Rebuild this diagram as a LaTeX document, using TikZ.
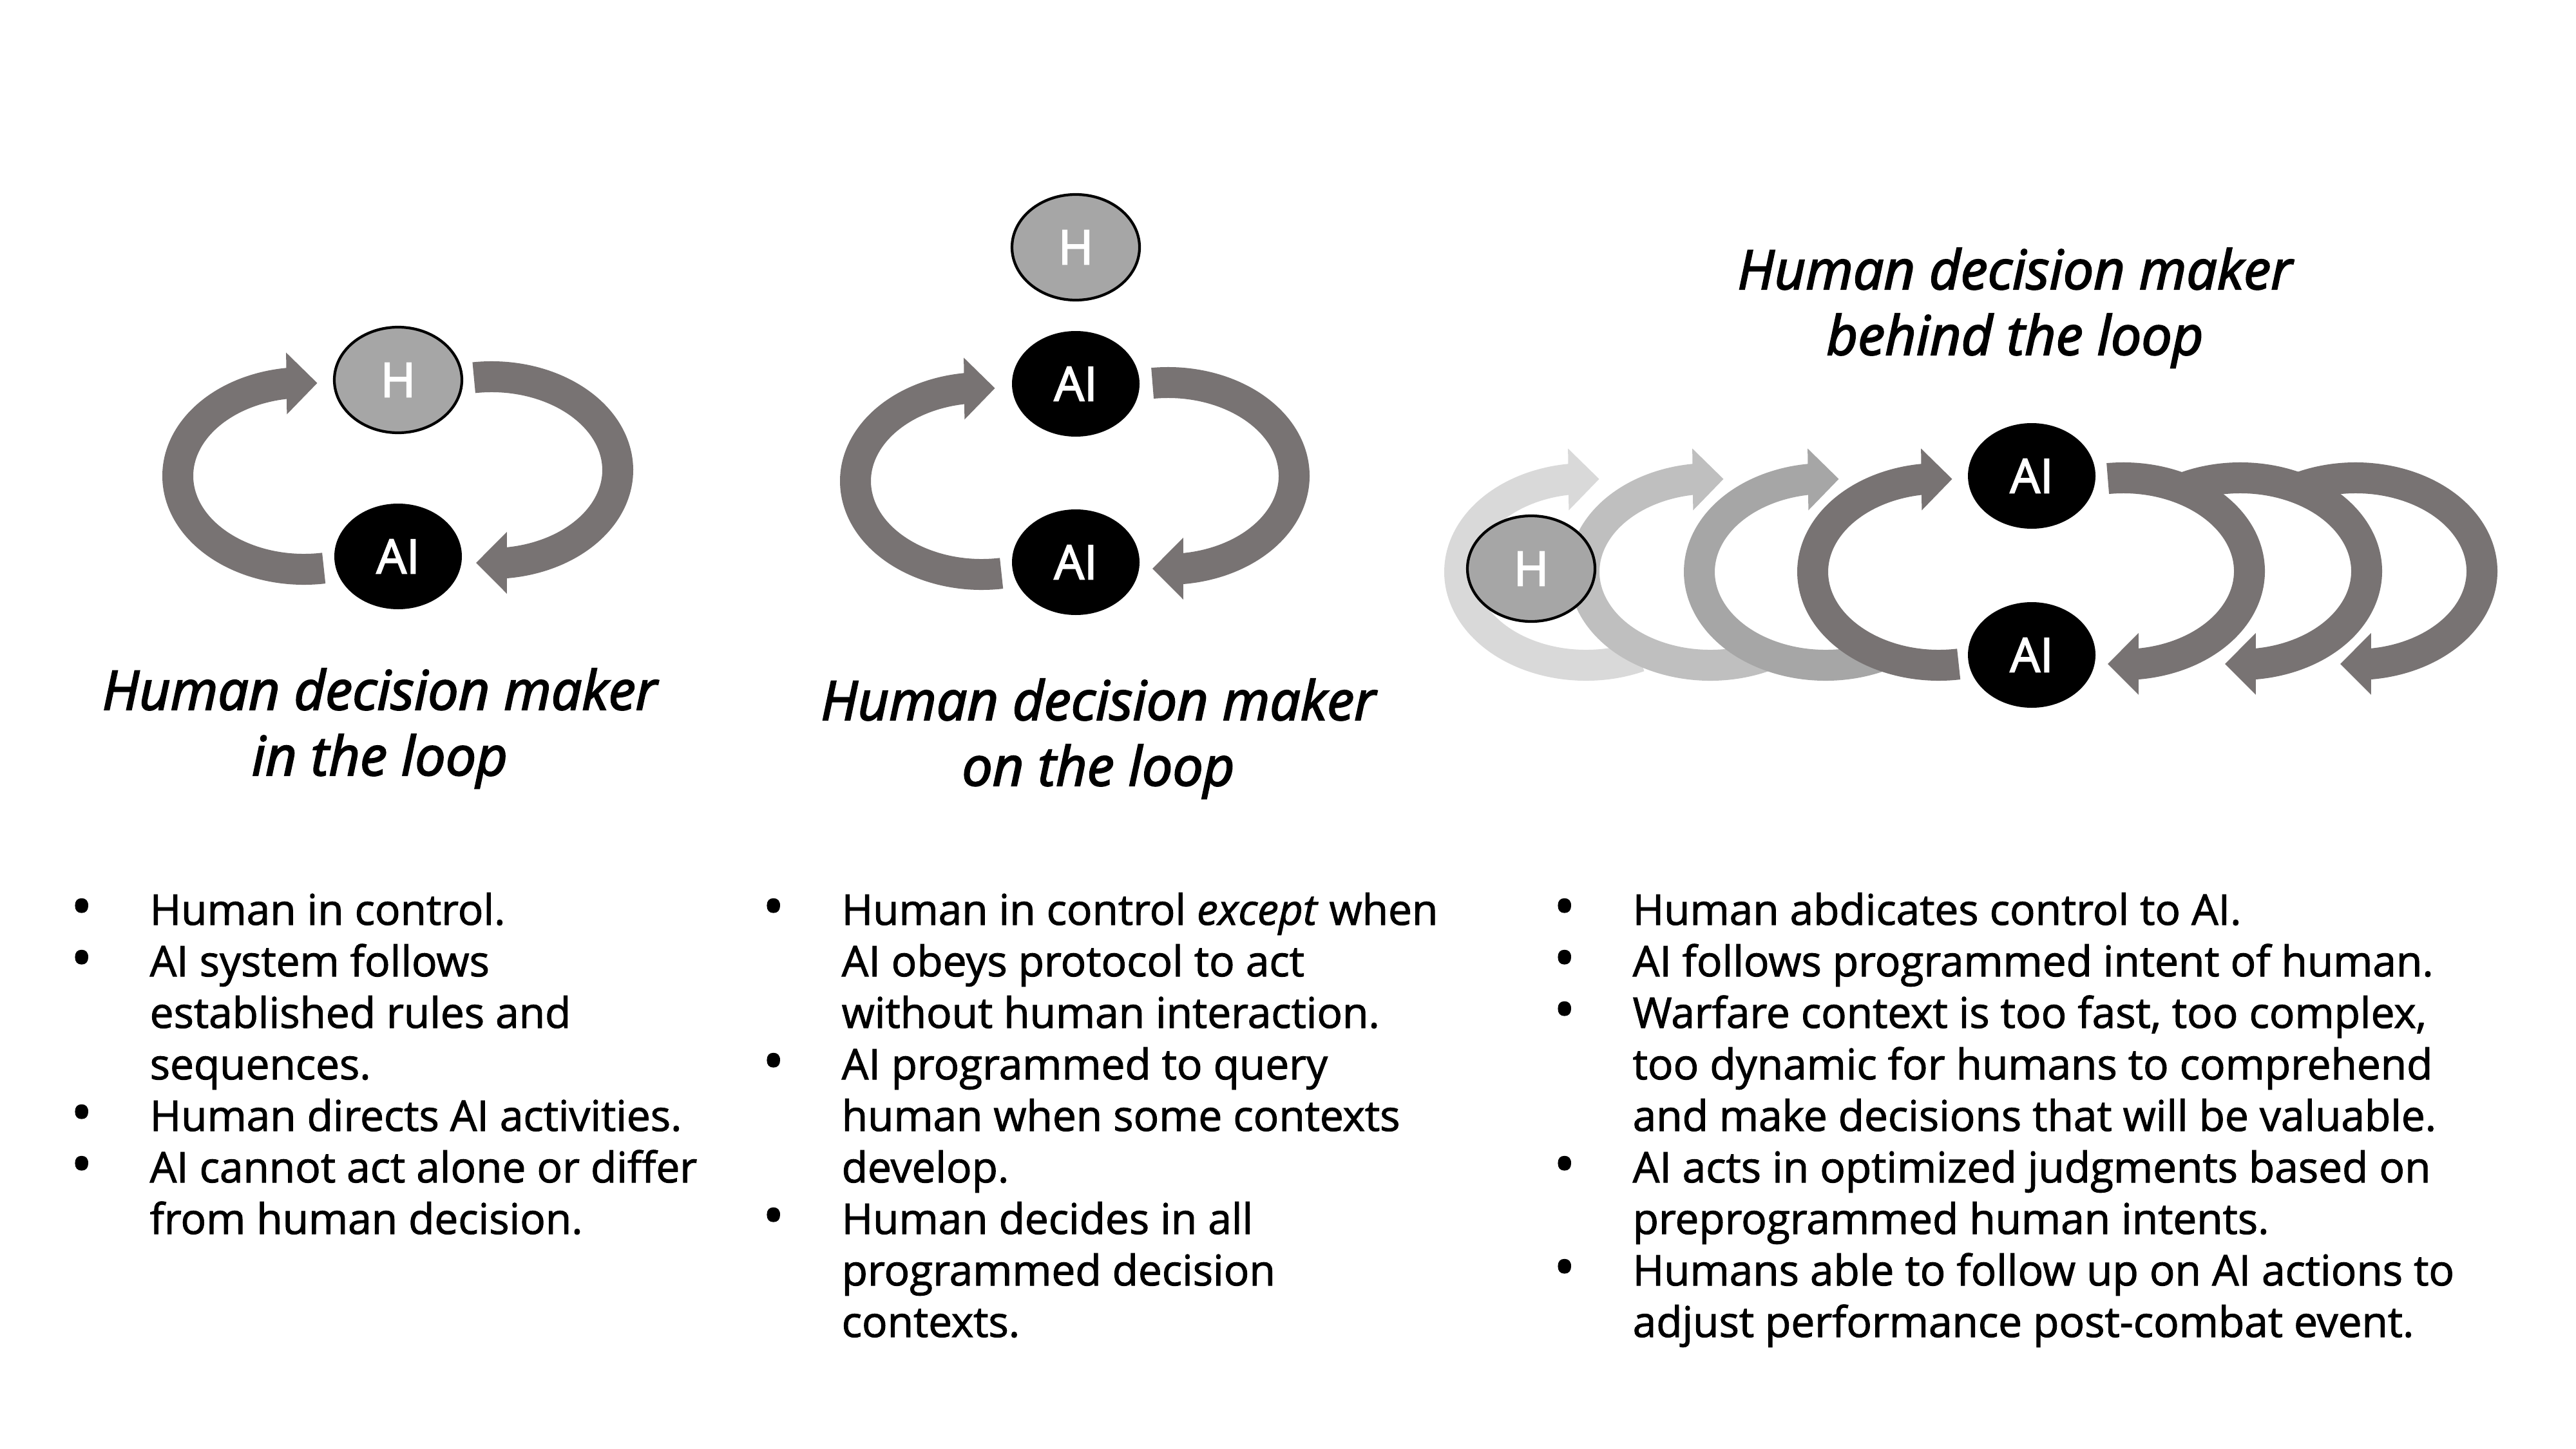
\documentclass[tikz,border=0pt]{standalone}
\usepackage{fontspec}
\usepackage{graphicx}
\setmainfont{Open Sans}[FakeBold=1.6]
\newfontfamily\titlefont{Open Sans}[FakeBold=2.6]
\usetikzlibrary{shapes.geometric,calc}
\pgfdeclarelayer{bg}
\pgfsetlayers{bg,main}
\definecolor{arrowgray}{RGB}{120,115,115}
\definecolor{hgray}{RGB}{166,166,166}
\definecolor{gone}{RGB}{217,217,217}
\definecolor{gtwo}{RGB}{191,191,191}
\definecolor{gthree}{RGB}{166,166,166}
\tikzset{
  agent/.style={ellipse, minimum width=1.98cm, minimum height=1.64cm, inner sep=0pt,
    text=white, font=\titlefont\fontsize{21}{25}\selectfont},
  hnode/.style={agent, fill=hgray, draw=black, line width=1.2pt},
  ainode/.style={agent, fill=black},
  band/.style={line width=0.48cm},
  titleline/.style={font=\titlefont\fontsize{24}{29}\selectfont\itshape, inner sep=0pt, anchor=base},
  body/.style={font=\fontsize{18.7}{22.76}\selectfont, inner sep=0pt, anchor=base west},
}
\newcommand{\bul}{\rlap{\hspace*{-1.06cm}\makebox[0pt]{\raisebox{-0.04em}{\scalebox{1.35}{\textbullet}}}}}
% loop travelling the left side, head at top pointing right
\newcommand{\loopleft}[4]{%
  \draw[band, draw=#2] ($(#1)+(#3:1.96cm and 1.45cm)$)
     arc[start angle=#3, end angle=96, x radius=1.96cm, y radius=1.45cm];
  \coordinate (#4b) at ($(#1)+(98:1.96cm and 1.45cm)$);
  \coordinate (#4t) at ($(#1)+(84:1.96cm and 1.45cm)$);
  \fill[#2] ($(#4b)!0.48cm!90:(#4t)$) -- (#4t) -- ($(#4b)!0.48cm!-90:(#4t)$) -- cycle;
}
% loop travelling the right side, head at bottom pointing left
\newcommand{\loopright}[4]{%
  \draw[band, draw=#2] ($(#1)+(#3:1.96cm and 1.45cm)$)
     arc[start angle=#3, end angle=-85, x radius=1.96cm, y radius=1.45cm];
  \coordinate (#4b) at ($(#1)+(-83:1.96cm and 1.45cm)$);
  \coordinate (#4t) at ($(#1)+(-97:1.96cm and 1.45cm)$);
  \fill[#2] ($(#4b)!0.48cm!90:(#4t)$) -- (#4t) -- ($(#4b)!0.48cm!-90:(#4t)$) -- cycle;
}
\begin{document}
\begin{tikzpicture}
\useasboundingbox (0,0) rectangle (39.99,-22.49);
% ---------- nodes ----------
\node[hnode]  (h1)  at (6.18,-5.90) {H};
\node[ainode] (a1)  at (6.18,-8.64) {AI};
\node[hnode]  (h2)  at (16.70,-3.84) {H};
\node[ainode] (a2t) at (16.70,-5.96) {AI};
\node[ainode] (a2b) at (16.70,-8.73) {AI};
\node[hnode]  (h3)  at (23.77,-8.83) {H};
\node[ainode] (a3t) at (31.54,-7.39) {AI};
\node[ainode] (a3b) at (31.54,-10.17) {AI};
% ---------- loop centres ----------
\coordinate (m1) at ($(h1)!0.5!(a1)$);
\coordinate (m2) at ($(a2t)!0.5!(a2b)$);
\coordinate (m3) at ($(a3t)!0.5!(a3b)$);
\coordinate (c1l) at ($(m1)+(-1.46,-0.12)$);
\coordinate (c1r) at ($(m1)+(1.45,-0.03)$);
\coordinate (c2l) at ($(m2)+(-1.46,-0.125)$);
\coordinate (c2r) at ($(m2)+(1.43,-0.045)$);
\coordinate (c3la) at ($(m3)+(-6.92,-0.10)$);
\coordinate (c3lb) at ($(m3)+(-4.99,-0.10)$);
\coordinate (c3lc) at ($(m3)+(-3.20,-0.10)$);
\coordinate (c3ld) at ($(m3)+(-1.44,-0.10)$);
\coordinate (c3ra) at ($(m3)+(1.42,-0.09)$);
\coordinate (c3rb) at ($(m3)+(3.24,-0.09)$);
\coordinate (c3rc) at ($(m3)+(5.03,-0.09)$);
% ---------- loops (behind nodes) ----------
\begin{pgfonlayer}{bg}
  \fill[white] (0,0) rectangle (39.99,-22.49);
  \loopleft{c1l}{arrowgray}{279}{p1l}
  \loopright{c1r}{arrowgray}{98}{p1r}
  \loopleft{c2l}{arrowgray}{279}{p2l}
  \loopright{c2r}{arrowgray}{97}{p2r}
  \loopleft{c3la}{gone}{295}{qa}
  \loopleft{c3lb}{gtwo}{295}{qb}
  \loopleft{c3lc}{gthree}{295}{qc}
  \loopleft{c3ld}{arrowgray}{279}{qd}
  \loopright{c3rc}{arrowgray}{120}{rc}
  \loopright{c3rb}{arrowgray}{120}{rb}
  \loopright{c3ra}{arrowgray}{97}{ra}
\end{pgfonlayer}
% ---------- titles ----------
\node[titleline] (t1a) at (5.895,-11.02) {Human decision maker};
\node[titleline] (t1b) at (5.895,-12.04) {in the loop};
\node[titleline] (t2a) at (17.05,-11.18) {Human decision maker};
\node[titleline] (t2b) at (17.05,-12.20) {on the loop};
\node[titleline] (t3a) at (31.28,-4.49) {Human decision maker};
\node[titleline] (t3b) at (31.28,-5.51) {behind the loop};
% ---------- bullet texts ----------
\foreach \txt [count=\i from 0] in {%
  {\bul Human in control.},
  {\bul AI system follows},
  {established rules and},
  {sequences.},
  {\bul Human directs AI activities.},
  {\bul AI cannot act alone or differ},
  {from human decision.}}
  \node[body] (pa\i) at (2.32,{-14.36-0.80*\i}) {\txt};
\foreach \txt [count=\i from 0] in {%
  {\bul Human in control \emph{except} when},
  {AI obeys protocol to act},
  {without human interaction.},
  {\bul AI programmed to query},
  {human when some contexts},
  {develop.},
  {\bul Human decides in all},
  {programmed decision},
  {contexts.}}
  \node[body] (pb\i) at (13.06,{-14.36-0.80*\i}) {\txt};
\foreach \txt [count=\i from 0] in {%
  {\bul Human abdicates control to AI.},
  {\bul AI follows programmed intent of human.},
  {\bul Warfare context is too fast, too complex,},
  {too dynamic for humans to comprehend},
  {and make decisions that will be valuable.},
  {\bul AI acts in optimized judgments based on},
  {preprogrammed human intents.},
  {\bul Humans able to follow up on AI actions to},
  {adjust performance post-combat event.}}
  \node[body] (pc\i) at (25.34,{-14.36-0.80*\i}) {\txt};
\end{tikzpicture}
\end{document}
